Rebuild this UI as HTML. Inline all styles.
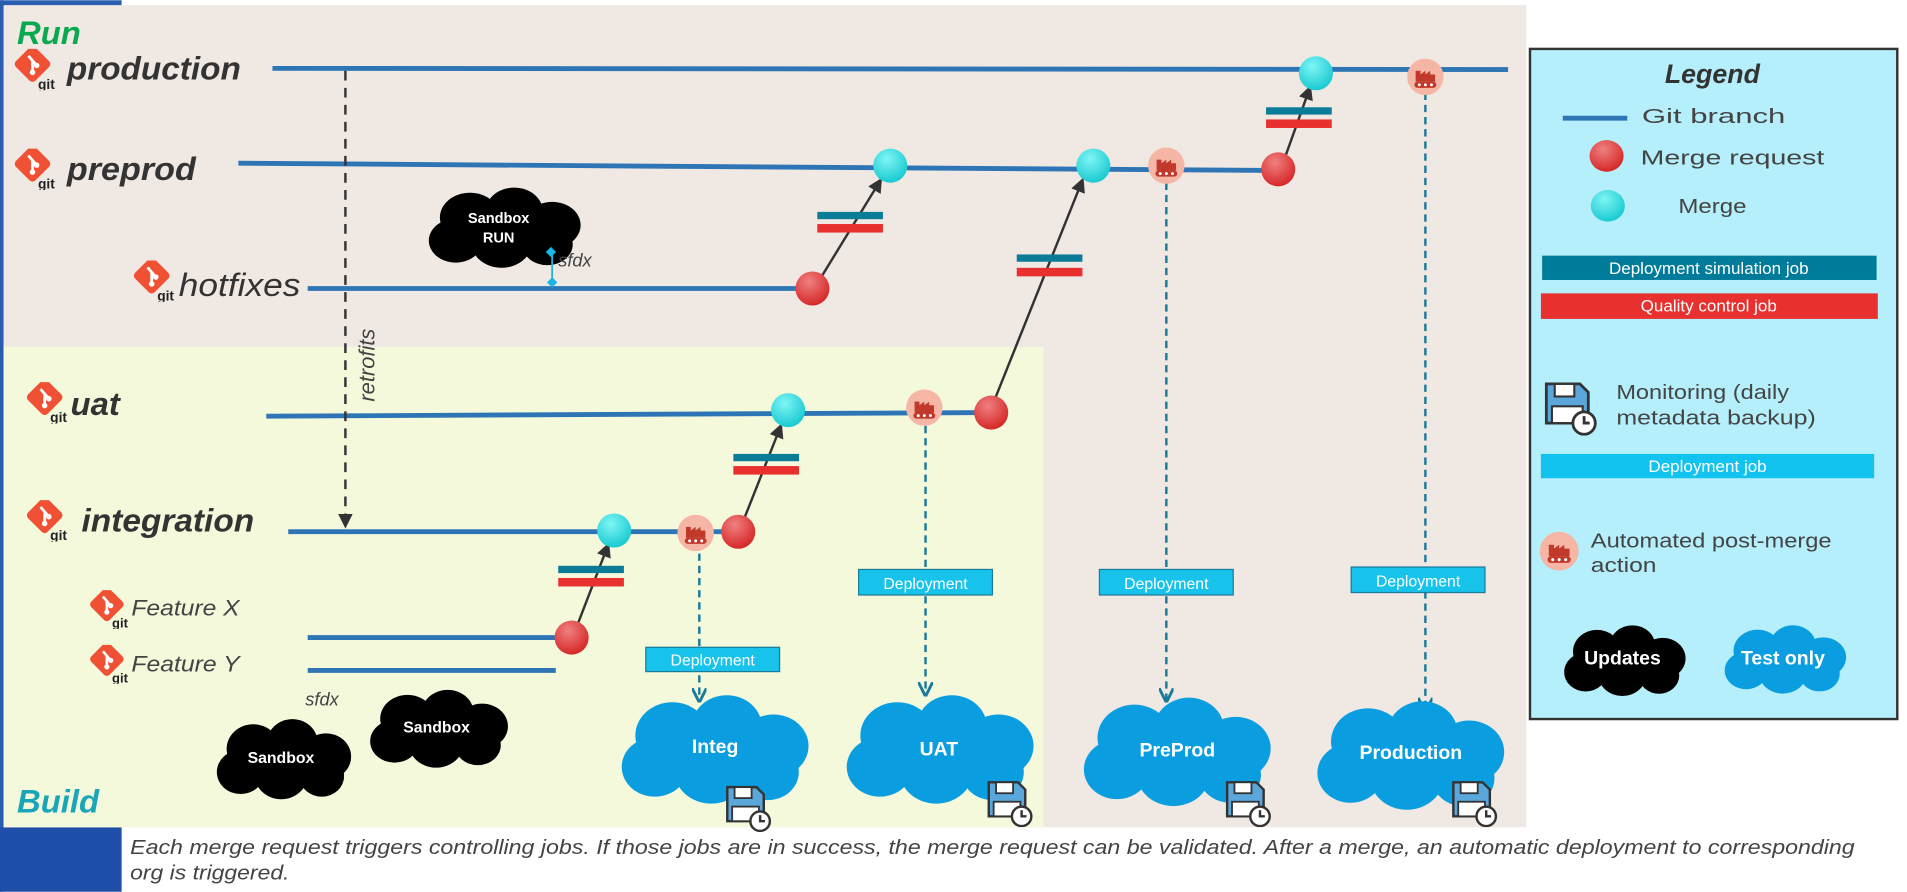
<!DOCTYPE html>
<html><head><meta charset="utf-8"><style>
html,body{margin:0;padding:0;background:#fff;overflow:hidden}
svg{display:block}
text{font-family:"Liberation Sans",sans-serif}
</style></head><body>
<svg width="1907" height="892" viewBox="0 0 1568 733" xmlns="http://www.w3.org/2000/svg">
<defs>
<symbol id="cloud" viewBox="0 0 100 64" preserveAspectRatio="none">
<circle cx="28" cy="24" r="19"/><circle cx="56" cy="19" r="18"/><circle cx="80" cy="30" r="18"/>
<circle cx="19" cy="42" r="17"/><circle cx="48" cy="44" r="19"/><circle cx="77" cy="45" r="16"/>
</symbol>
<symbol id="git" viewBox="0 0 30 30">
<rect x="3" y="1" width="20" height="20" rx="3" transform="rotate(45 13 11)" fill="#f05033"/>
<path d="M10 5 L16 12 M13 9 L13 17" stroke="#fff" stroke-width="2" fill="none"/>
<circle cx="13" cy="17" r="2" fill="#fff"/><circle cx="16" cy="12" r="2" fill="#fff"/>
<text x="17" y="29" font-size="10" font-weight="bold" fill="#222">git</text>
</symbol>
<symbol id="auto" viewBox="0 0 30 30">
<circle cx="15" cy="15" r="15" fill="#f6b6a6"/>
<path d="M7 19 V10 h4 v3 l4-3 v3 l4-3 v3 h4 v6 z" fill="#c0392b"/>
<rect x="6" y="19" width="18" height="5" rx="2.5" fill="#c0392b"/>
<circle cx="10" cy="21.5" r="1.2" fill="#fff"/><circle cx="15" cy="21.5" r="1.2" fill="#fff"/><circle cx="20" cy="21.5" r="1.2" fill="#fff"/>
</symbol>
<symbol id="floppy" viewBox="0 0 40 40">
<path d="M3 3 h24 l6 6 v22 h-30 z" fill="#5aa7dc" stroke="#333" stroke-width="2"/>
<rect x="9" y="3" width="14" height="9" fill="#fff" stroke="#333" stroke-width="1.5"/>
<rect x="7" y="19" width="22" height="12" fill="#fff" stroke="#333" stroke-width="1.5"/>
<circle cx="30" cy="31" r="8" fill="#fff" stroke="#333" stroke-width="2"/>
<path d="M30 26 v5 h4" stroke="#333" stroke-width="2" fill="none"/>
</symbol>
<radialGradient id="red" cx="0.4" cy="0.3" r="0.8"><stop offset="0" stop-color="#f08080"/><stop offset="1" stop-color="#d21c1c"/></radialGradient>
<radialGradient id="cyan" cx="0.4" cy="0.3" r="0.8"><stop offset="0" stop-color="#7ff5f5"/><stop offset="1" stop-color="#0bc4cc"/></radialGradient>
<marker id="ah" viewBox="0 0 10 10" refX="8" refY="5" markerWidth="6" markerHeight="6" orient="auto"><path d="M0 0 L10 5 L0 10 z" fill="#333"/></marker>
<marker id="ahb" viewBox="0 0 10 10" refX="8" refY="5" markerWidth="6" markerHeight="6" orient="auto"><path d="M0 0 L10 5 L0 10" fill="none" stroke="#1a7a9a" stroke-width="2"/></marker>
</defs>

<rect x="0" y="0" width="100" height="5" fill="#2a5db0"/>
<rect x="0" y="0" width="3" height="733" fill="#2a5db0"/>
<rect x="0" y="680" width="100" height="53" fill="#1f4fa8"/>
<rect x="3" y="4" width="1252" height="676" fill="#f0e8e3"/>
<rect x="3" y="285" width="855" height="395" fill="#f4f9dc"/>
<text x="14" y="36" font-size="27" font-weight="bold" font-style="italic" fill="#0aa84f">Run</text>
<text x="14" y="668" font-size="27" font-weight="bold" font-style="italic" fill="#1aa6b8">Build</text>

<g stroke="#2e75b6" stroke-width="4">
<line x1="224" y1="56" x2="1240" y2="57"/>
<line x1="196" y1="134" x2="1050" y2="140"/>
<line x1="253" y1="237" x2="668" y2="237"/>
<line x1="219" y1="342" x2="815" y2="339"/>
<line x1="237" y1="437" x2="608" y2="437"/>
<line x1="253" y1="524" x2="470" y2="524"/>
<line x1="253" y1="551" x2="457" y2="551"/>
</g>

<use href="#git" x="12" y="40" width="34" height="34"/>
<text x="55" y="65" font-size="27" font-weight="bold" font-style="italic" fill="#333" textLength="143" lengthAdjust="spacingAndGlyphs">production</text>
<use href="#git" x="12" y="122" width="34" height="34"/>
<text x="55" y="148" font-size="27" font-weight="bold" font-style="italic" fill="#333" textLength="106" lengthAdjust="spacingAndGlyphs">preprod</text>
<use href="#git" x="110" y="214" width="34" height="34"/>
<text x="147" y="243" font-size="27" font-style="italic" fill="#333" textLength="100" lengthAdjust="spacingAndGlyphs">hotfixes</text>
<use href="#git" x="22" y="314" width="34" height="34"/>
<text x="58" y="341" font-size="27" font-weight="bold" font-style="italic" fill="#333">uat</text>
<use href="#git" x="22" y="411" width="34" height="34"/>
<text x="67" y="437" font-size="27" font-weight="bold" font-style="italic" fill="#333" textLength="142" lengthAdjust="spacingAndGlyphs">integration</text>
<use href="#git" x="74" y="485" width="32" height="32"/>
<text x="108" y="506" font-size="18" font-style="italic" fill="#444" textLength="89" lengthAdjust="spacingAndGlyphs">Feature X</text>
<use href="#git" x="74" y="530" width="32" height="32"/>
<text x="108" y="552" font-size="18" font-style="italic" fill="#444" textLength="89" lengthAdjust="spacingAndGlyphs">Feature Y</text>

<line x1="284" y1="58" x2="284" y2="432" stroke="#333" stroke-width="2" stroke-dasharray="8 6" marker-end="url(#ah)"/>
<text x="0" y="0" font-size="18" font-style="italic" fill="#444" transform="translate(308 330) rotate(-90)">retrofits</text>

<use href="#cloud" x="350" y="153" width="130" height="68" fill="#000"/>
<text x="410" y="183" font-size="12" font-weight="bold" fill="#fff" text-anchor="middle">Sandbox</text>
<text x="410" y="199" font-size="12" font-weight="bold" fill="#fff" text-anchor="middle">RUN</text>
<line x1="454" y1="207" x2="454" y2="232" stroke="#1ab6e6" stroke-width="1.5"/>
<rect x="450" y="204" width="6" height="6" fill="#1ab6e6" transform="rotate(45 453 207)"/>
<rect x="451" y="229" width="6" height="6" fill="#1ab6e6" transform="rotate(45 454 232)"/>
<text x="459" y="219" font-size="15" font-style="italic" fill="#444">sfdx</text>

<g stroke="#333" stroke-width="2" marker-end="url(#ah)">
<line x1="675" y1="228" x2="724" y2="148"/>
<line x1="818" y1="328" x2="890" y2="148"/>
<line x1="1057" y1="128" x2="1077" y2="72"/>
<line x1="612" y1="426" x2="642" y2="350"/>
<line x1="475" y1="513" x2="500" y2="448"/>
</g>

<g>
<rect x="672" y="174" width="54" height="6" fill="#0a7c98"/><rect x="672" y="184" width="54" height="7" fill="#e8302f"/>
<rect x="836" y="209" width="54" height="6" fill="#0a7c98"/><rect x="836" y="220" width="54" height="7" fill="#e8302f"/>
<rect x="1041" y="88" width="54" height="6" fill="#0a7c98"/><rect x="1041" y="98" width="54" height="7" fill="#e8302f"/>
<rect x="603" y="373" width="54" height="6" fill="#0a7c98"/><rect x="603" y="383" width="54" height="7" fill="#e8302f"/>
<rect x="459" y="465" width="54" height="6" fill="#0a7c98"/><rect x="459" y="475" width="54" height="7" fill="#e8302f"/>
</g>

<g stroke="#1a7a9a" stroke-width="2" stroke-dasharray="6 4" marker-end="url(#ahb)">
<line x1="575" y1="455" x2="575" y2="575"/>
<line x1="761" y1="350" x2="761" y2="570"/>
<line x1="959" y1="150" x2="959" y2="575"/>
<line x1="1172" y1="76" x2="1172" y2="583"/>
</g>

<g fill="url(#red)">
<circle cx="668" cy="237" r="14"/><circle cx="1051" cy="139" r="14"/><circle cx="815" cy="339" r="14"/><circle cx="607" cy="437" r="14"/><circle cx="470" cy="524" r="14"/>
</g>
<g fill="url(#cyan)">
<circle cx="1082" cy="60" r="14"/><circle cx="732" cy="136" r="14"/><circle cx="899" cy="136" r="14"/><circle cx="648" cy="337" r="14"/><circle cx="505" cy="436" r="14"/>
</g>
<use href="#auto" x="1157" y="48" width="30" height="30"/>
<use href="#auto" x="944" y="121" width="30" height="30"/>
<use href="#auto" x="745" y="320" width="30" height="30"/>
<use href="#auto" x="557" y="423" width="30" height="30"/>

<g fill="#17c3ea" stroke="#1a7a9a" stroke-width="1">
<rect x="531" y="532" width="110" height="20"/><rect x="706" y="468" width="110" height="21"/><rect x="904" y="468" width="110" height="21"/><rect x="1111" y="466" width="110" height="21"/>
</g>
<g font-size="13" fill="#fff" text-anchor="middle">
<text x="586" y="547">Deployment</text><text x="761" y="484">Deployment</text><text x="959" y="484">Deployment</text><text x="1166" y="482">Deployment</text>
</g>

<g fill="#0a9ee0">
<use href="#cloud" x="508" y="570" width="160" height="92"/>
<use href="#cloud" x="693" y="570" width="160" height="92"/>
<use href="#cloud" x="888" y="572" width="160" height="92"/>
<use href="#cloud" x="1080" y="575" width="160" height="92"/>
</g>
<g font-size="16" font-weight="bold" fill="#fff" text-anchor="middle">
<text x="588" y="619">Integ</text><text x="772" y="621">UAT</text><text x="968" y="622">PreProd</text><text x="1160" y="624">Production</text>
</g>
<use href="#floppy" x="595" y="644" width="40" height="40"/>
<use href="#floppy" x="810" y="640" width="40" height="40"/>
<use href="#floppy" x="1006" y="640" width="40" height="40"/>
<use href="#floppy" x="1192" y="640" width="40" height="40"/>

<use href="#cloud" x="176" y="590" width="115" height="68" fill="#000"/>
<text x="231" y="627" font-size="13" font-weight="bold" fill="#fff" text-anchor="middle">Sandbox</text>
<use href="#cloud" x="302" y="566" width="118" height="66" fill="#000"/>
<text x="359" y="602" font-size="13" font-weight="bold" fill="#fff" text-anchor="middle">Sandbox</text>
<text x="251" y="580" font-size="15" font-style="italic" fill="#444">sfdx</text>

<rect x="1258" y="40" width="302" height="551" fill="#b5effb" stroke="#333" stroke-width="2"/>
<text x="1408" y="68" font-size="22" font-weight="bold" font-style="italic" fill="#333" text-anchor="middle">Legend</text>
<line x1="1285" y1="97" x2="1338" y2="97" stroke="#2e75b6" stroke-width="4"/>
<text x="1350" y="101" font-size="17" fill="#444" textLength="118" lengthAdjust="spacingAndGlyphs">Git branch</text>
<ellipse cx="1321" cy="128" rx="14" ry="13" fill="url(#red)"/>
<text x="1349" y="135" font-size="17" fill="#444" textLength="151" lengthAdjust="spacingAndGlyphs">Merge request</text>
<ellipse cx="1322" cy="169" rx="14" ry="13" fill="url(#cyan)"/>
<text x="1380" y="175" font-size="17" fill="#444" textLength="56" lengthAdjust="spacingAndGlyphs">Merge</text>
<rect x="1268" y="210" width="275" height="20" fill="#007c9a"/>
<text x="1405" y="225" font-size="14" fill="#fff" text-anchor="middle">Deployment simulation job</text>
<rect x="1267" y="241" width="277" height="21" fill="#e8302f"/>
<text x="1405" y="256" font-size="14" fill="#fff" text-anchor="middle">Quality control job</text>
<use href="#floppy" x="1268" y="312" width="46" height="46"/>
<text x="1329" y="328" font-size="17" fill="#444" textLength="142" lengthAdjust="spacingAndGlyphs">Monitoring (daily</text>
<text x="1329" y="349" font-size="17" fill="#444" textLength="164" lengthAdjust="spacingAndGlyphs">metadata backup)</text>
<rect x="1267" y="373" width="274" height="20" fill="#13c3ef"/>
<text x="1404" y="388" font-size="14" fill="#fff" text-anchor="middle">Deployment job</text>
<use href="#auto" x="1266" y="437" width="32" height="32"/>
<text x="1308" y="450" font-size="17" fill="#444" textLength="198" lengthAdjust="spacingAndGlyphs">Automated post-merge</text>
<text x="1308" y="470" font-size="17" fill="#444" textLength="54" lengthAdjust="spacingAndGlyphs">action</text>
<use href="#cloud" x="1284" y="513" width="104" height="60" fill="#000"/>
<text x="1334" y="546" font-size="16" font-weight="bold" fill="#fff" text-anchor="middle">Updates</text>
<use href="#cloud" x="1416" y="513" width="104" height="58" fill="#0a9ee0"/>
<text x="1466" y="546" font-size="16" font-weight="bold" fill="#fff" text-anchor="middle">Test only</text>

<text x="107" y="702" font-size="17" font-style="italic" fill="#444" textLength="1418" lengthAdjust="spacingAndGlyphs">Each merge request triggers controlling jobs. If those jobs are in success, the merge request can be validated. After a merge, an automatic deployment to corresponding</text>
<text x="107" y="723" font-size="17" font-style="italic" fill="#444" textLength="131" lengthAdjust="spacingAndGlyphs">org is triggered.</text>
</svg>
</body></html>
